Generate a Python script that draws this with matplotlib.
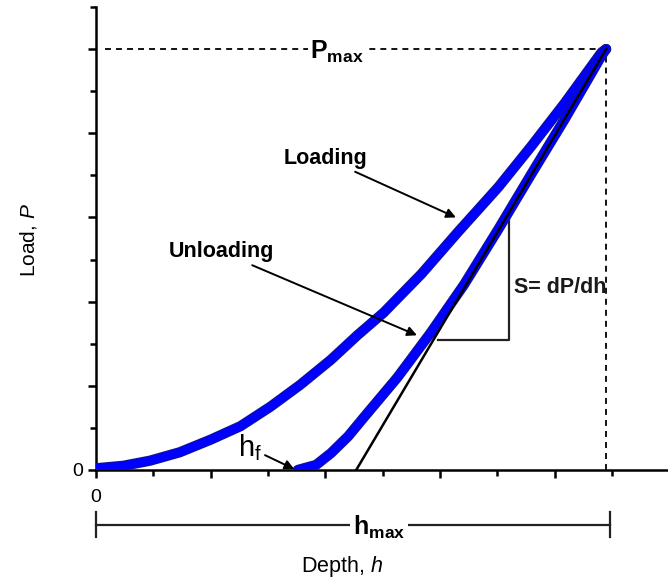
import matplotlib
matplotlib.use("Agg")
import matplotlib.pyplot as plt
import matplotlib.patheffects as pe
from matplotlib.ticker import MultipleLocator

plt.rcParams['font.family'] = ['Liberation Sans', 'DejaVu Sans']
plt.rcParams['mathtext.fontset'] = 'custom'
plt.rcParams['mathtext.rm'] = 'Liberation Sans'
plt.rcParams['mathtext.it'] = 'Liberation Sans:italic'
plt.rcParams['mathtext.bf'] = 'Liberation Sans:bold'
plt.rcParams['mathtext.default'] = 'regular'

# load-depth curves (depth h, load P)
load_h = [0.00, 0.24, 0.47, 0.73, 1.00, 1.26, 1.52, 1.78, 2.05, 2.28, 2.51,
          2.84, 3.16, 3.51, 3.80, 4.09, 4.41, 4.45]
load_p = [0.02, 0.05, 0.11, 0.21, 0.36, 0.52, 0.75, 1.01, 1.31, 1.60, 1.87,
          2.33, 2.83, 3.36, 3.85, 4.36, 4.96, 5.00]

unload_h = [1.76, 1.92, 2.05, 2.20, 2.34, 2.63, 2.92, 3.21, 3.51, 3.80, 4.09,
            4.41, 4.45]
unload_p = [0.00, 0.06, 0.20, 0.40, 0.63, 1.10, 1.63, 2.20, 2.86, 3.52, 4.17,
            4.92, 5.00]

# contact stiffness tangent and its slope triangle
tangent_h = [2.27, 4.45]
tangent_p = [0.00, 5.00]
triangle_h = [2.98, 3.60, 3.60]
triangle_p = [1.54, 1.54, 2.99]

h_max = 4.45
p_max = 5.0
h_f = 1.76

fig = plt.figure(figsize=(6.68, 5.79), dpi=100)
ax = fig.add_axes([0.1437, 0.1883, 0.8563, 0.7997])

blue_fx = [pe.Stroke(linewidth=7.4, foreground='#14148a'), pe.Normal()]
ax.plot(load_h, load_p, color='#0000ff', lw=6.0, solid_capstyle='round',
        solid_joinstyle='round', path_effects=blue_fx, zorder=3)
ax.plot(unload_h, unload_p, color='#0000ff', lw=6.0, solid_capstyle='round',
        solid_joinstyle='round', path_effects=blue_fx, zorder=3)
ax.plot(tangent_h, tangent_p, color='black', lw=1.8, zorder=4)
ax.plot(triangle_h, triangle_p, color='#222222', lw=1.6, zorder=2)

# dashed guides to Pmax / hmax
ax.plot([0.08, h_max], [p_max, p_max], color='black', lw=1.3,
        linestyle=(0, (3.3, 2.8)), zorder=1)
ax.plot([h_max, h_max], [0, p_max - 0.05], color='black', lw=1.3,
        linestyle=(0, (3.3, 2.8)), zorder=1)
ax.text(2.10, p_max - 0.03, r'$\mathbf{P_{max}}$', fontsize=18, ha='center',
        va='center', bbox=dict(facecolor='white', edgecolor='none', pad=1),
        zorder=5)

arrow = dict(arrowstyle='-|>', lw=1.4, color='black', mutation_scale=14,
             shrinkA=0, shrinkB=0)
ax.annotate('Loading', xy=(3.14, 3.00), xytext=(2.37, 3.70),
            fontsize=15.5, fontweight='bold', ha='right', va='center',
            arrowprops=arrow)
ax.annotate('Unloading', xy=(2.80, 1.60), xytext=(1.55, 2.59),
            fontsize=15.5, fontweight='bold', ha='right', va='center',
            arrowprops=arrow)
ax.annotate(r'$h_f$', xy=(h_f - 0.03, 0.01), xytext=(1.24, 0.26),
            fontsize=21, ha='left', va='center', arrowprops=arrow)
ax.text(3.65, 2.17, 'S= dP/dh', fontsize=15.5, fontweight='bold',
        ha='left', va='center', color='#1a1a1a')

# hmax bar under the axis
bar_y = -0.65
ax.plot([0, 4.48], [bar_y, bar_y], color='#222222', lw=1.6, clip_on=False)
ax.plot([0, 0], [bar_y - 0.15, bar_y + 0.15], color='#222222', lw=1.6,
        clip_on=False)
ax.plot([4.48, 4.48], [bar_y - 0.15, bar_y + 0.15], color='#222222', lw=1.6,
        clip_on=False)
ax.text(2.47, bar_y - 0.03, r'$\mathbf{h_{max}}$', fontsize=18, ha='center',
        va='center', bbox=dict(facecolor='white', edgecolor='none', pad=2))

ax.text(2.15, -1.15, r'Depth, $\mathit{h}$', fontsize=15.5, ha='center',
        va='center')
fig.text(0.042, 0.585, r'Load, $\mathit{P}$', fontsize=15, rotation=90,
         ha='center', va='center')

ax.set_xlim(0, 4.99)
ax.set_ylim(0, 5.5)
for side in ['top', 'right']:
    ax.spines[side].set_visible(False)
for side in ['left', 'bottom']:
    ax.spines[side].set_linewidth(1.8)
ax.xaxis.set_major_locator(MultipleLocator(1))
ax.xaxis.set_minor_locator(MultipleLocator(0.5))
ax.yaxis.set_major_locator(MultipleLocator(1))
ax.yaxis.set_minor_locator(MultipleLocator(0.5))
ax.set_xticks([0, 1, 2, 3, 4], ['0', '', '', '', ''])
ax.set_yticks([0, 1, 2, 3, 4, 5], ['0', '', '', '', '', ''])
ax.tick_params(which='major', length=6, width=1.8, labelsize=14, direction='out')
ax.tick_params(which='minor', length=4, width=1.8, direction='out')
ax.tick_params(axis='x', pad=8)

fig.savefig('out.png', dpi=100)
